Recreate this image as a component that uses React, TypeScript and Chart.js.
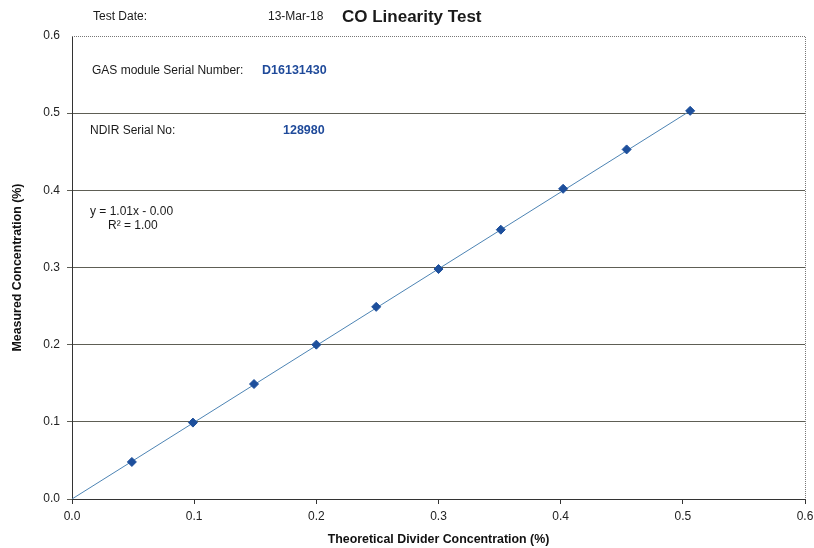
import React, { useEffect, useRef } from "react";
import { Chart, registerables } from "chart.js";

Chart.register(...registerables);

const theoreticalX = [0.049, 0.099, 0.149, 0.2, 0.249, 0.3, 0.351, 0.402, 0.454, 0.506];
const measuredY = [0.048, 0.099, 0.149, 0.2, 0.249, 0.298, 0.349, 0.402, 0.453, 0.503];
const trendX = [0, 0.506];
const trendY = [0, 0.503];
const xTicks = [0, 0.1, 0.2, 0.3, 0.4, 0.5, 0.6];
const yTicks = [0, 0.1, 0.2, 0.3, 0.4, 0.5, 0.6];

const FONT = "'Liberation Sans', Arial, sans-serif";
const BLUE_TEXT = "#1f4a9a";

const annotationPlugin = {
  id: "annotations",
  beforeDraw(chart: any) {
    const { ctx, width, height } = chart;
    ctx.save();
    ctx.fillStyle = "#ffffff";
    ctx.fillRect(0, 0, width, height);
    ctx.restore();
  },
  afterDraw(chart: any) {
    const { ctx, chartArea } = chart;
    const { left, right, top, bottom } = chartArea;
    ctx.save();
    // dotted top & right border
    ctx.strokeStyle = "#777";
    ctx.lineWidth = 1;
    ctx.setLineDash([1, 1]);
    ctx.beginPath();
    ctx.moveTo(left, top + 0.5);
    ctx.lineTo(right + 0.5, top + 0.5);
    ctx.lineTo(right + 0.5, bottom);
    ctx.stroke();
    ctx.setLineDash([]);

    ctx.textBaseline = "middle";
    ctx.textAlign = "left";
    ctx.fillStyle = "#1a1a1a";
    ctx.font = `12px ${FONT}`;
    ctx.fillText("Test Date:", 93, 17);
    ctx.fillText("13-Mar-18", 268, 17);
    ctx.font = `bold 17px ${FONT}`;
    ctx.fillText("CO Linearity Test", 342, 17);

    ctx.font = `12px ${FONT}`;
    ctx.fillText("GAS module Serial Number:", 92, 71);
    ctx.fillText("NDIR Serial No:", 90, 131);
    ctx.fillText("y = 1.01x - 0.00", 90, 212);
    ctx.fillText("R\u00B2 = 1.00", 108, 226);

    ctx.fillStyle = BLUE_TEXT;
    ctx.font = `bold 12.5px ${FONT}`;
    ctx.fillText("D16131430", 262, 71);
    ctx.fillText("128980", 283, 131);
    ctx.restore();
  },
};

export default function App() {
  const canvasRef = useRef<HTMLCanvasElement | null>(null);

  useEffect(() => {
    if (!canvasRef.current) return;
    const points = theoreticalX.map((x, i) => ({ x, y: measuredY[i] }));
    const trend = trendX.map((x, i) => ({ x, y: trendY[i] }));
    const chart = new Chart(canvasRef.current, {
      type: "scatter",
      data: {
        datasets: [
          {
            label: "Measured",
            data: points,
            pointStyle: "rectRot",
            pointRadius: 4.5,
            pointBackgroundColor: "#1d4f9c",
            pointBorderColor: "#1d4f9c",
            pointBorderWidth: 1,
            showLine: false,
            order: 0,
          },
          {
            label: "Trend",
            data: trend,
            showLine: true,
            borderColor: "#4d84b4",
            borderWidth: 1,
            pointRadius: 0,
            order: 1,
          } as any,
        ],
      },
      options: {
        responsive: false,
        animation: false,
        layout: { padding: { left: 0, right: 9, top: 36, bottom: 0 } },
        plugins: {
          legend: { display: false },
          tooltip: { enabled: false },
        },
        scales: {
          x: {
            type: "linear",
            min: 0,
            max: 0.6,
            afterBuildTicks: (scale: any) => {
              scale.ticks = xTicks.map((v) => ({ value: v }));
            },
            afterFit: (scale: any) => {
              scale.height = 49;
              scale.paddingRight = 0;
              scale.paddingLeft = 0;
            },
            grid: {
              drawOnChartArea: false,
              drawTicks: true,
              tickLength: 5,
              color: "#333",
            },
            border: { display: true, color: "#333", width: 1 },
            ticks: {
              color: "#222",
              font: { family: FONT, size: 12 },
              padding: 5,
              callback: (v: any) => Number(v).toFixed(1),
            },
            title: {
              display: true,
              text: "Theoretical Divider Concentration (%)",
              color: "#111",
              font: { family: FONT, size: 12.4, weight: "bold" },
              padding: { top: 0, bottom: 1 },
            },
          },
          y: {
            type: "linear",
            min: 0,
            max: 0.6,
            afterBuildTicks: (scale: any) => {
              scale.ticks = yTicks.map((v) => ({ value: v }));
            },
            afterFit: (scale: any) => {
              scale.width = 72;
              scale.paddingTop = 0;
              scale.paddingBottom = 0;
            },
            grid: {
              drawTicks: true,
              tickLength: 5,
              color: (c: any) =>
                c.tick && c.tick.value >= 0.6 ? "rgba(0,0,0,0)" : "#5e5e55",
              lineWidth: 1,
            },
            border: { display: true, color: "#333", width: 1 },
            ticks: {
              color: "#222",
              font: { family: FONT, size: 12 },
              padding: 7,
              callback: (v: any) => Number(v).toFixed(1),
            },
            title: {
              display: true,
              text: "Measured Concentration (%)",
              color: "#111",
              font: { family: FONT, size: 12.4, weight: "bold" },
              padding: { top: 10, bottom: 0 },
            },
          },
        },
      },
      plugins: [annotationPlugin],
    });
    return () => chart.destroy();
  }, []);

  return (
    <div style={{ position: "absolute", left: 0, top: 0, width: 814, height: 548, background: "#fff" }}>
      <canvas ref={canvasRef} width={814} height={548} style={{ display: "block" }} />
    </div>
  );
}
